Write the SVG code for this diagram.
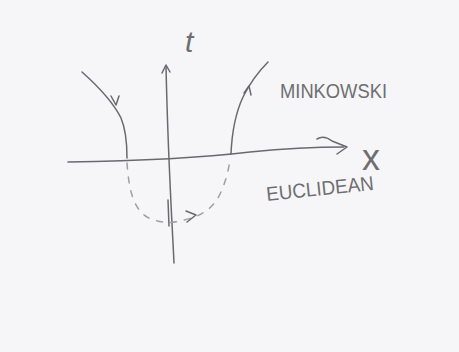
<svg xmlns="http://www.w3.org/2000/svg" width="459" height="352" viewBox="0 0 459 352">
<style>
.ln{fill:none;stroke:#6a6a6e;stroke-width:1.5;stroke-linecap:round;stroke-linejoin:round}
.dash{stroke-dasharray:6 8;stroke:#a0a0a4}
.lbl{font-family:"Liberation Sans",Arial,sans-serif;fill:#6e6e72}
</style>
<rect width="459" height="352" fill="#f6f6f8"/>
<g id="axes">
<path class="ln" d="M68,162 C140,161 200,158 250,152 C290,148 320,147 344,147"/>
<path class="ln" d="M317,139 C322,136 328,138 332,141 L347,147 L337,154"/>
<path class="ln" d="M174,263 C172,220 168,160 166,66"/>
<path class="ln" d="M162,73 L166,65 L170,72"/>
<path class="ln" d="M168,200 L169,226"/>
</g>
<g id="connectors">
<path class="ln" d="M82,72 C100,88 114,104 121,118 C126,130 127,145 127,158"/>
<path class="ln" d="M111,96 L116,105 L119,96"/>
<path class="ln" d="M231,154 C232,130 236,112 243,97 C250,83 258,72 268,62"/>
<path class="ln" d="M244,93 L249,86 L251,95"/>
<path class="ln dash" d="M127,163 C129,190 133,208 147,217 C158,223 172,224 184,220 C202,216 214,208 221,192 C227,178 229,168 230,158"/>
<path class="ln" d="M186,211 L196,215 L187,222"/>
</g>
<g id="labels">
<text class="lbl" x="185" y="52" font-size="30" font-style="italic">t</text>
<text class="lbl" x="362" y="170" font-size="36">x</text>
<text class="lbl" x="280" y="98" font-size="20" textLength="107" lengthAdjust="spacingAndGlyphs">MINKOWSKI</text>
<text class="lbl" x="267" y="201" font-size="20" textLength="108" lengthAdjust="spacingAndGlyphs" transform="rotate(-6 267 201)">EUCLIDEAN</text>
</g>
</svg>
